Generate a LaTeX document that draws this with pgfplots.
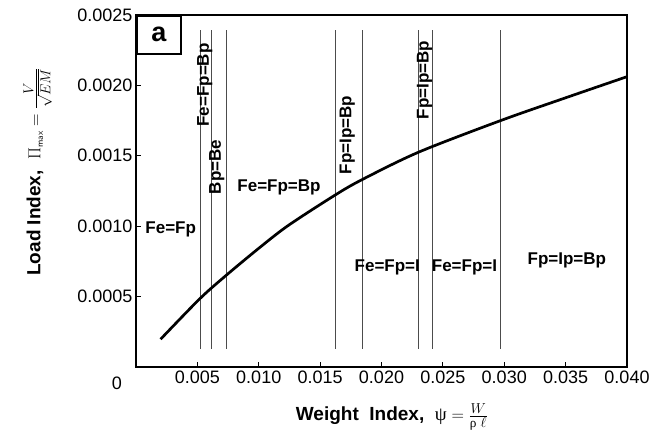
\documentclass[border=0pt]{standalone}
\usepackage{amsmath}
\usepackage{pgfplots}
\pgfplotsset{compat=1.18}
\usepackage{fontspec}
\setmainfont{Liberation Sans}
\newfontfamily\serifface{Liberation Serif}

\tikzset{
  boundary/.style={gray!60!black, line width=0.9pt},
  region/.style={font=\bfseries\fontsize{17}{17}\selectfont, inner sep=0pt},
}

\begin{document}
\begin{tikzpicture}
\begin{axis}[
  name=ax,
  scale only axis,
  width=491pt, height=352pt,
  xmin=0, xmax=0.04, ymin=0, ymax=0.0025,
  clip=false,
  xtick={0.005,0.010,0.015,0.020,0.025,0.030,0.035,0.040},
  ytick={0.0005,0.0010,0.0015,0.0020,0.0025},
  tick align=inside, xtick pos=bottom, ytick pos=left,
  major tick length=5pt,
  tick style={line width=1.2pt, black},
  axis line style={line width=1.8pt},
  scaled ticks=false,
  /pgf/number format/assume math mode=true,
  x tick label style={/pgf/number format/.cd, fixed, fixed zerofill, precision=3},
  y tick label style={/pgf/number format/.cd, fixed, fixed zerofill, precision=4},
  tick label style={font=\fontsize{18}{20}\selectfont},
  xlabel={\textbf{Weight\ \ Index,}\ \ $\text{\serifface ψ} = \frac{W}{\text{\serifface ρ}\;\ell}$},
  xlabel style={at={(axis description cs:0.521,-0.142)}, anchor=center, font=\fontsize{19}{21}\selectfont},
  ylabel={\textbf{Load Index,}\ \ $\Pi_{\text{\sffamily\fontsize{9}{9}\selectfont max}} = \frac{V}{\sqrt{EM}}$},
  ylabel style={at={(axis description cs:-0.200,0.554)}, anchor=center, font=\fontsize{19}{21}\selectfont},
]

% regime boundaries
\addplot[boundary] coordinates {(0.00521,0.00013) (0.00521,0.00239)};
\addplot[boundary] coordinates {(0.00611,0.00013) (0.00611,0.00239)};
\addplot[boundary] coordinates {(0.00736,0.00013) (0.00736,0.00239)};
\addplot[boundary] coordinates {(0.01623,0.00013) (0.01623,0.00239)};
\addplot[boundary] coordinates {(0.01841,0.00013) (0.01841,0.00239)};
\addplot[boundary] coordinates {(0.02297,0.00013) (0.02297,0.00239)};
\addplot[boundary] coordinates {(0.02411,0.00013) (0.02411,0.00239)};
\addplot[boundary] coordinates {(0.02972,0.00013) (0.02972,0.00239)};

% maximum load index against weight index
\addplot[black, line width=2.7pt, smooth, tension=0.5] coordinates {
  (0.0020,0.000197) (0.0052,0.000485) (0.0074,0.000655) (0.0100,0.000843)
  (0.0124,0.001005) (0.0162,0.001220) (0.0184,0.001330) (0.0230,0.001525)
  (0.0297,0.001750) (0.0350,0.001912) (0.0400,0.002062)
};

% failure-mode labels
\node[region] at (axis cs:0.00283,0.00098) {Fe=Fp};
\node[region, rotate=90] at (axis cs:0.00560,0.002003) {Fe=Fp=Bp};
\node[region, rotate=90] at (axis cs:0.00659,0.00142) {Bp=Be};
\node[region] at (axis cs:0.01165,0.001278) {Fe=Fp=Bp};
\node[region, rotate=90] at (axis cs:0.01721,0.001648) {Fp=Ip=Bp};
\node[region, rotate=90] at (axis cs:0.02350,0.002038) {Fp=Ip=Bp};
\node[region] at (axis cs:0.02047,0.00071) {Fe=Fp=I};
\node[region] at (axis cs:0.02676,0.00071) {Fe=Fp=I};
\node[region] at (axis cs:0.03510,0.00076) {Fp=Ip=Bp};

% panel tag and origin label
\node[draw, line width=1.6pt, fill=white, anchor=north west, minimum width=44pt,
      minimum height=38pt, inner sep=0pt, font=\bfseries\fontsize{27}{27}\selectfont]
      at (rel axis cs:0,1) {a};
\node[font=\fontsize{18}{20}\selectfont] at (axis description cs:-0.0387,-0.0455) {0};
\end{axis}
\path[use as bounding box] ([shift={(-136pt,-72pt)}]ax.south west)
  rectangle ([shift={(43pt,15pt)}]ax.north east);
\end{tikzpicture}
\end{document}
